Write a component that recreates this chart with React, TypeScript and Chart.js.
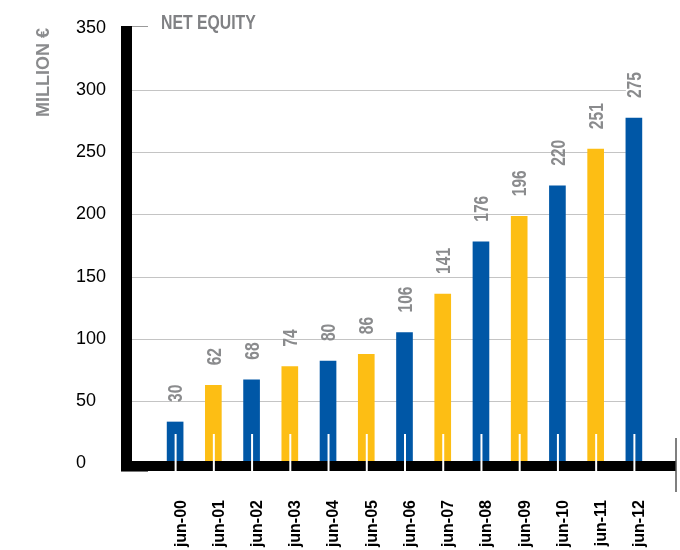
import React, { useEffect, useRef } from "react";
import { Chart, registerables } from "chart.js";

Chart.register(...registerables);

const categories = ["jun-00", "jun-01", "jun-02", "jun-03", "jun-04", "jun-05", "jun-06", "jun-07", "jun-08", "jun-09", "jun-10", "jun-11", "jun-12"];
// bar heights as drawn in the picture (million €)
const barValues = [33, 62.5, 67, 77.5, 82, 87.5, 105, 136, 178, 198.5, 223, 252.5, 277.5];
// printed value labels
const valueLabels = ["30", "62", "68", "74", "80", "86", "106", "141", "176", "196", "220", "251", "275"];
const yTicks = [0, 50, 100, 150, 200, 250, 300, 350];
const gridValues = [50, 100, 150, 200, 250, 300];
const chartTitle = "NET EQUITY";
const yTitle = "MILLION €";

const BLUE = "#0057a6";
const YELLOW = "#fdbe14";
const FAMILY = "'Liberation Sans', Arial, sans-serif";

const decor = {
  id: "decor",
  beforeDatasetsDraw(chart: any) {
    const { ctx } = chart;
    const y = chart.scales.y;
    const meta = chart.getDatasetMeta(0);
    const last = meta.data[meta.data.length - 1];
    const endX = last.x - last.width / 2;
    ctx.save();
    ctx.strokeStyle = "#c4c4c4";
    ctx.lineWidth = 1;
    gridValues.forEach((v) => {
      const py = Math.round(y.getPixelForValue(v)) + 0.5;
      ctx.beginPath();
      ctx.moveTo(132, py);
      ctx.lineTo(endX, py);
      ctx.stroke();
    });
    ctx.restore();
  },
  afterDatasetsDraw(chart: any) {
    const { ctx } = chart;
    const y = chart.scales.y;
    const meta = chart.getDatasetMeta(0);
    const zero = y.getPixelForValue(0);
    const top = y.getPixelForValue(350);
    ctx.save();
    // axis frame
    ctx.fillStyle = "#000";
    ctx.fillRect(121, top - 2, 11, zero + 8 - (top - 2));
    ctx.fillRect(121, zero - 2, 555, 10);
    ctx.strokeStyle = "#777";
    ctx.lineWidth = 1;
    ctx.beginPath();
    ctx.moveTo(121, zero + 8.5);
    ctx.lineTo(148, zero + 8.5);
    ctx.stroke();
    // top gray tick
    ctx.strokeStyle = "#9a9a9a";
    ctx.beginPath();
    ctx.moveTo(132, Math.round(top) - 1.5);
    ctx.lineTo(148, Math.round(top) - 1.5);
    ctx.stroke();
    // right end line
    ctx.strokeStyle = "#555";
    ctx.lineWidth = 1.5;
    ctx.beginPath();
    ctx.moveTo(676, zero - 25);
    ctx.lineTo(676, zero + 29);
    ctx.stroke();
    // white ticks
    ctx.strokeStyle = "#fff";
    ctx.lineWidth = 2;
    meta.data.forEach((bar: any) => {
      ctx.beginPath();
      ctx.moveTo(bar.x + 0.5, zero - 29);
      ctx.lineTo(bar.x + 0.5, zero + 9);
      ctx.stroke();
    });
    // value labels (condensed)
    ctx.fillStyle = "#8a8b8d";
    ctx.font = `bold 20px ${FAMILY}`;
    ctx.textAlign = "left";
    ctx.textBaseline = "alphabetic";
    meta.data.forEach((bar: any, i: number) => {
      ctx.save();
      ctx.translate(bar.x, bar.y - 20);
      ctx.rotate(-Math.PI / 2);
      ctx.scale(0.78, 1);
      ctx.fillText(valueLabels[i], 0, 7.2);
      ctx.restore();
    });
    // titles
    ctx.save();
    ctx.fillStyle = "#808184";
    ctx.font = `bold 20px ${FAMILY}`;
    ctx.translate(161, 29);
    ctx.scale(0.79, 1);
    ctx.fillText(chartTitle, 0, 0);
    ctx.restore();
    ctx.save();
    ctx.translate(49, 117);
    ctx.rotate(-Math.PI / 2);
    ctx.font = `bold 18px ${FAMILY}`;
    ctx.fillStyle = "#8a8b8d";
    ctx.fillText(yTitle, 0, 0);
    ctx.restore();
    ctx.restore();
  },
};

export default function App() {
  const ref = useRef<HTMLCanvasElement>(null);
  useEffect(() => {
    document.body.style.margin = "0";
    const chart = new Chart(ref.current!, {
      type: "bar",
      data: {
        labels: categories,
        datasets: [
          {
            data: barValues,
            backgroundColor: categories.map((_, i) => (i % 2 === 0 ? BLUE : YELLOW)),
            barThickness: 16,
            borderWidth: 0,
          },
        ],
      },
      options: {
        animation: false,
        responsive: false,
        devicePixelRatio: 1,
        layout: { padding: { left: 76, right: 27, top: 28, bottom: 0 } },
        plugins: { legend: { display: false }, tooltip: { enabled: false }, title: { display: false } },
        scales: {
          x: {
            grid: { display: false, drawTicks: false },
            border: { display: false },
            afterFit: (s: any) => {
              s.height = 87;
              s.paddingLeft = 0;
              s.paddingRight = 0;
            },
            ticks: {
              autoSkip: false,
              minRotation: 90,
              maxRotation: 90,
              padding: 37,
              labelOffset: 6,
              color: "#000",
              font: { family: FAMILY, size: 16, weight: "bold" },
            },
          },
          y: {
            min: 0,
            max: 350,
            afterFit: (s: any) => {
              s.width = 80;
              s.paddingTop = 0;
              s.paddingBottom = 0;
            },
            afterBuildTicks: (s: any) => {
              s.ticks = yTicks.map((v) => ({ value: v }));
            },
            grid: { display: false, drawTicks: false },
            border: { display: false },
            ticks: {
              crossAlign: "far",
              color: "#000",
              font: { family: FAMILY, size: 18 },
            },
          },
        },
      },
      plugins: [decor],
    });
    return () => chart.destroy();
  }, []);
  return <canvas ref={ref} width={680} height={550} style={{ display: "block", width: 680, height: 550 }} />;
}
